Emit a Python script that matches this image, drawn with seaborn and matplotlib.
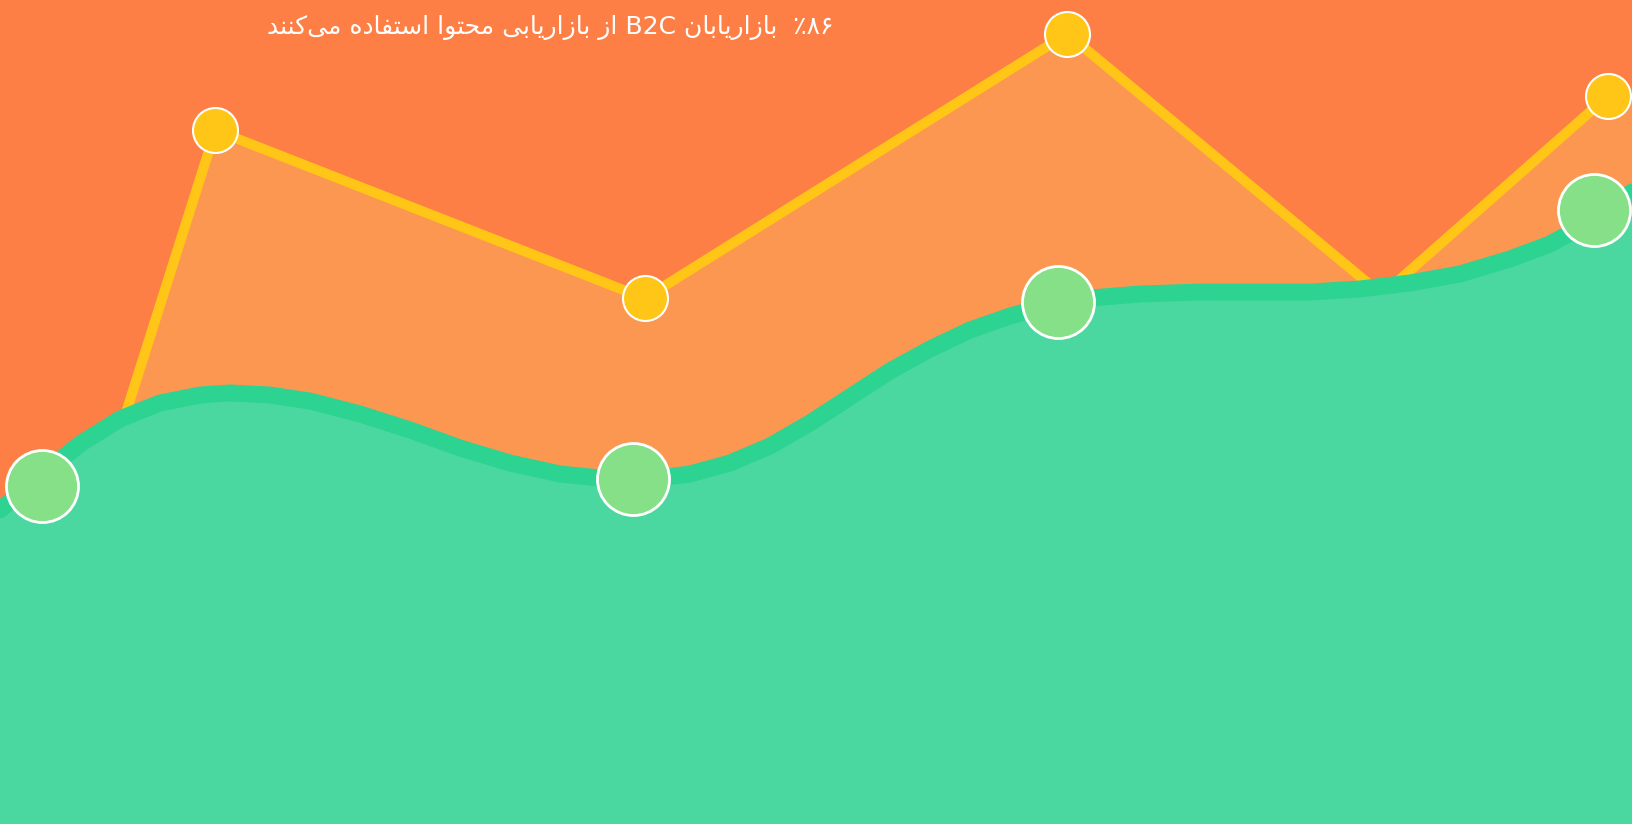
#!/usr/bin/env python3
"""
Content marketing infographic: orange/yellow polyline over a green wave
"""

import matplotlib
matplotlib.use("Agg")
import numpy as np
import pandas as pd
import matplotlib.pyplot as plt
import seaborn as sns

# Colours
BG_ORANGE = "#FE7F45"
FILL_ORANGE = "#FC9752"
YELLOW = "#FFC617"
GREEN_LINE = "#2CD391"
GREEN_FILL = "#4AD8A0"
GREEN_DOT = "#86E087"

# Title (logical order, Persian)
TITLE = "٪۸۶  بازاریابان B2C از بازاریابی محتوا استفاده می\u200cکنند"

# Yellow series (position 0-100, value 0-100)
yellow_x = [0.0, 13.2, 39.5, 65.4, 84.7, 98.5]
yellow_y = [1.6, 84.2, 63.8, 95.9, 64.2, 88.3]
# which yellow points carry a visible dot
yellow_dot = [False, True, True, True, False, True]

# Green wave
green_x = [0.0, 2.45, 4.90, 7.35, 9.80, 12.25, 14.09, 16.54, 18.99, 22.06,
           25.12, 28.19, 31.25, 34.31, 37.38, 39.83, 42.28, 44.73, 47.18, 49.63,
           52.08, 54.53, 56.99, 59.44, 61.89, 64.34, 66.79, 69.85, 73.53, 77.21,
           80.27, 83.33, 86.40, 89.46, 92.52, 94.98, 97.43, 100.0]
green_y = [38.11, 42.23, 46.12, 49.15, 51.09, 52.06, 52.31, 52.06, 51.33, 49.76,
           47.82, 45.63, 43.81, 42.48, 41.87, 41.87, 42.48, 43.81, 45.87, 48.67,
           51.82, 54.98, 57.65, 59.95, 61.65, 62.99, 63.83, 64.32, 64.56, 64.56,
           64.56, 64.93, 65.66, 66.75, 68.57, 70.39, 73.06, 76.70]

# Green highlighted points
dot_x = [2.6, 38.8, 64.8, 97.7]
dot_y = [41.0, 41.9, 63.3, 74.5]


# --- minimal Persian shaping (matplotlib has no bidi / joining support) ---
FORMS = {  # isolated, final, initial, medial
    "ا": ("\uFE8D", "\uFE8E", None, None),
    "ب": ("\uFE8F", "\uFE90", "\uFE91", "\uFE92"),
    "ت": ("\uFE95", "\uFE96", "\uFE97", "\uFE98"),
    "ح": ("\uFEA1", "\uFEA2", "\uFEA3", "\uFEA4"),
    "د": ("\uFEA9", "\uFEAA", None, None),
    "ر": ("\uFEAD", "\uFEAE", None, None),
    "ز": ("\uFEAF", "\uFEB0", None, None),
    "س": ("\uFEB1", "\uFEB2", "\uFEB3", "\uFEB4"),
    "ف": ("\uFED1", "\uFED2", "\uFED3", "\uFED4"),
    "م": ("\uFEE1", "\uFEE2", "\uFEE3", "\uFEE4"),
    "ن": ("\uFEE5", "\uFEE6", "\uFEE7", "\uFEE8"),
    "ه": ("\uFEE9", "\uFEEA", "\uFEEB", "\uFEEC"),
    "و": ("\uFEED", "\uFEEE", None, None),
    "ی": ("\uFBFC", "\uFBFD", "\uFBFE", "\uFBFF"),
    "ک": ("\uFB8E", "\uFB8F", "\uFB90", "\uFB91"),
}


def dual(ch):
    return ch in FORMS and FORMS[ch][2] is not None


def shape_word(word):
    out = []
    for i, ch in enumerate(word):
        if ch not in FORMS:
            if ch != "\u200c":
                out.append(ch)
            continue
        prev = word[i - 1] if i > 0 else ""
        nxt = word[i + 1] if i + 1 < len(word) else ""
        join_prev = dual(prev)
        join_next = dual(ch) and nxt in FORMS
        iso, fin, ini, med = FORMS[ch]
        if join_prev and join_next:
            out.append(med)
        elif join_prev:
            out.append(fin)
        elif join_next:
            out.append(ini)
        else:
            out.append(iso)
    return "".join(reversed(out))


def visual(text):
    words = text.split(" ")
    vis = []
    for w in reversed(words):
        if any(c in FORMS for c in w):
            vis.append(shape_word(w))
        else:
            vis.append(w)
    return " ".join(vis)


def main():
    sns.set_theme(style="white")
    plt.rcParams["font.family"] = ["DejaVu Sans"]

    fig = plt.figure(figsize=(16.32, 8.24), dpi=100)
    fig.patch.set_facecolor(BG_ORANGE)
    ax = fig.add_axes([0, 0, 1, 1])
    ax.set_axis_off()

    yellow = pd.DataFrame({"x": yellow_x, "y": yellow_y, "dot": yellow_dot})
    green = pd.DataFrame({"x": green_x, "y": green_y})
    dots = pd.DataFrame({"x": dot_x, "y": dot_y})

    # orange area (runs on to the right edge at the last value) + yellow polyline
    fill_x = list(yellow["x"]) + [100.0]
    fill_y = list(yellow["y"]) + [yellow["y"].iloc[-1]]
    ax.fill_between(fill_x, fill_y, 0, color=FILL_ORANGE, lw=0, zorder=1)
    sns.lineplot(data=yellow, x="x", y="y", ax=ax, color=YELLOW, linewidth=7.2,
                 sort=False, zorder=2)
    sns.scatterplot(data=yellow[yellow["dot"]], x="x", y="y", ax=ax, color=YELLOW,
                    s=1050, edgecolor="white", linewidth=1.5, zorder=3)

    # green wave
    ax.fill_between(green["x"], green["y"], 0, color=GREEN_FILL, lw=0, zorder=4)
    sns.lineplot(data=green, x="x", y="y", ax=ax, color=GREEN_LINE, linewidth=12.2,
                 sort=False, zorder=5)
    for ln in ax.get_lines():
        ln.set_solid_joinstyle("round")
        ln.set_solid_capstyle("round")
    sns.scatterplot(data=dots, x="x", y="y", ax=ax, color=GREEN_DOT, s=2690,
                    edgecolor="white", linewidth=2, zorder=6)

    ax.text(33.7, 96.7, visual(TITLE), ha="center", va="center",
            color="white", fontsize=18, zorder=7)

    ax.set_xlim(0, 100)
    ax.set_ylim(0, 100)
    fig.savefig("out.png", dpi=100, facecolor=BG_ORANGE)
    plt.close(fig)


if __name__ == "__main__":
    main()
